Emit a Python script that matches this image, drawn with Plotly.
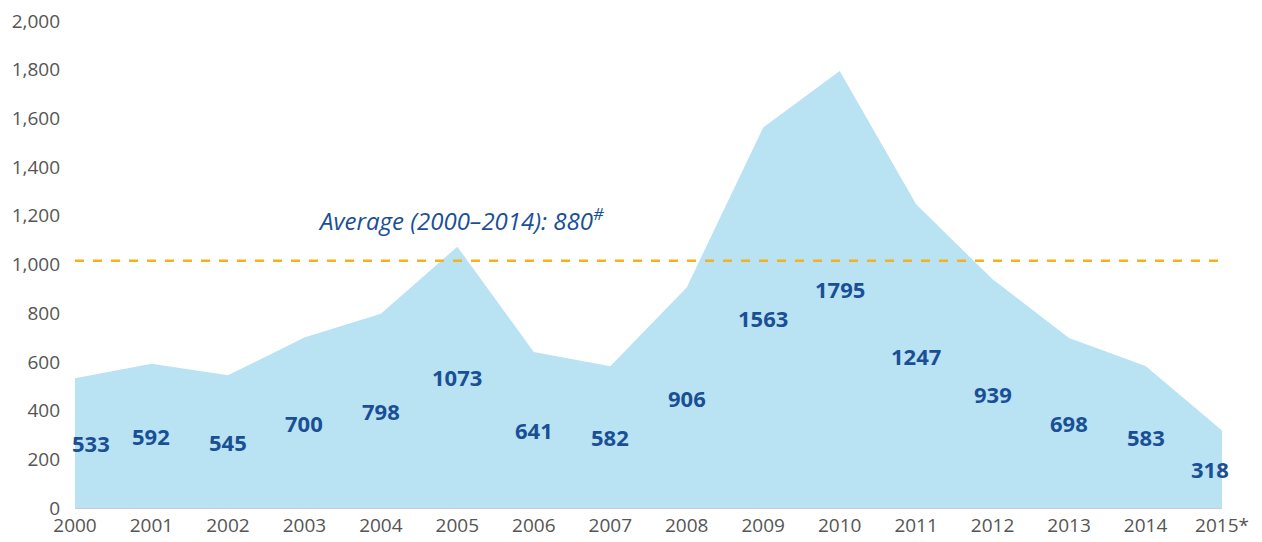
import plotly.graph_objects as go

years = [2000, 2001, 2002, 2003, 2004, 2005, 2006, 2007, 2008, 2009, 2010, 2011, 2012, 2013, 2014, 2015]
tick_labels = ["2000", "2001", "2002", "2003", "2004", "2005", "2006", "2007", "2008", "2009",
               "2010", "2011", "2012", "2013", "2014", "2015*"]
values = [533, 592, 545, 700, 798, 1073, 641, 582, 906, 1563, 1795, 1247, 939, 698, 583, 318]
average_line = 1015
average_text = "Average (2000–2014): 880<sup>#</sup>"

fig = go.Figure()
fig.add_trace(go.Scatter(
    x=years, y=values, mode="lines", fill="tozeroy",
    line=dict(width=0, color="#b9e2f3"), fillcolor="#b9e2f3",
    hoverinfo="x+y", showlegend=False,
))
fig.add_trace(go.Scatter(
    x=[years[0], years[-1]], y=[average_line, average_line], mode="lines",
    line=dict(color="#f5b01e", width=2.5, dash="dash"),
    hoverinfo="skip", showlegend=False,
))

for i, (yr, v) in enumerate(zip(years, values)):
    shift = 0
    if i == 0:
        shift = 16
    elif i == len(years) - 1:
        shift = -12
    fig.add_annotation(
        x=yr, y=v / 2, text=f"<b>{v}</b>", showarrow=False,
        font=dict(family="Open Sans", size=22, color="#1a4f96"),
        xshift=shift,
    )

fig.add_annotation(
    x=2005.05, y=1185, text=f"<i>{average_text}</i>", showarrow=False,
    font=dict(family="Open Sans", size=24, color="#1a4f96"),
)

fig.update_layout(
    width=1262, height=542,
    margin=dict(l=67, r=48, t=13, b=42),
    paper_bgcolor="white", plot_bgcolor="white",
    font=dict(family="Open Sans", size=19, color="#555555"),
    xaxis=dict(
        range=[2000, 2015], tickvals=years, ticktext=tick_labels,
        showgrid=False, zeroline=False, showline=False, ticks="",
        automargin=False, ticklabelstandoff=4, ticklabeloverflow="allow",
        tickfont=dict(size=19, color="#555555"),
    ),
    yaxis=dict(
        range=[0, 2000], tickvals=list(range(0, 2001, 200)), tickformat=",",
        showgrid=False, zeroline=True, zerolinecolor="#cccccc", zerolinewidth=2,
        showline=False, ticks="", ticklabelstandoff=14, automargin=False,
        ticklabeloverflow="allow",
        tickfont=dict(size=19, color="#555555"),
    ),
)

fig.write_html("out.html")
